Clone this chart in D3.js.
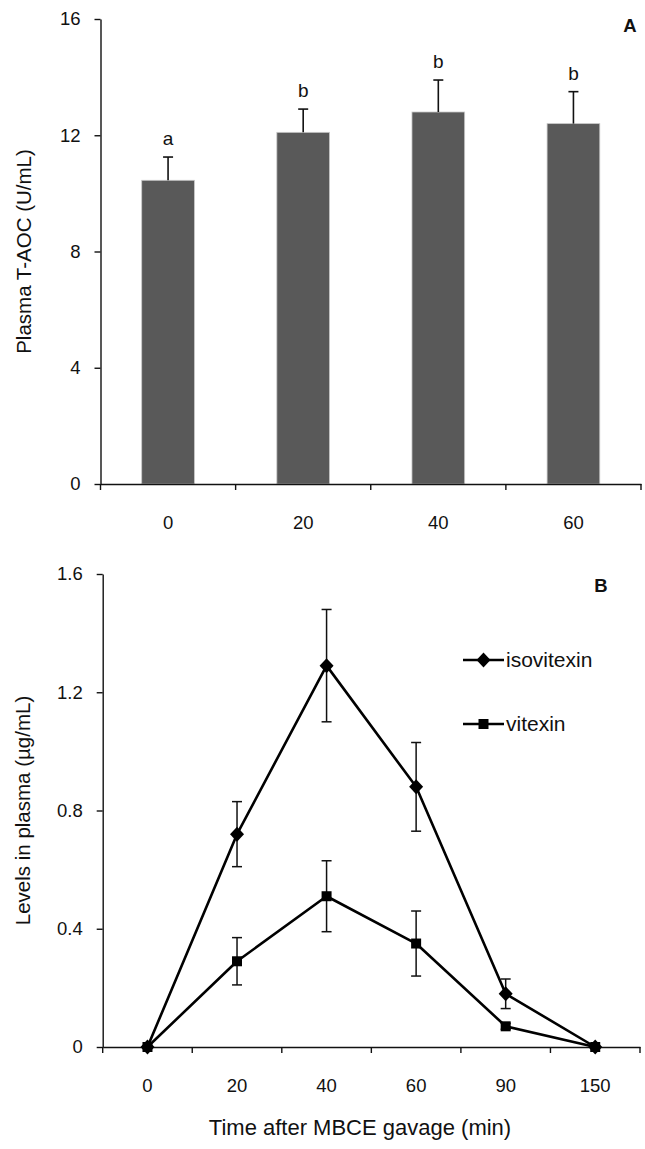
<!DOCTYPE html>
<html>
<head>
<meta charset="utf-8">
<script src="https://cdn.jsdelivr.net/npm/d3@7/dist/d3.min.js"></script>
<style>
  html, body { margin: 0; padding: 0; background: #fff; }
  svg { display: block; font-family: "Liberation Sans", Arial, sans-serif; }
</style>
</head>
<body>
<svg id="chart" width="645" height="1149"></svg>
<script>
// ---- Panel A data ----
const timesA = ["0", "20", "40", "60"];
const taoc = [10.45, 12.1, 12.8, 12.4];
const taocErr = [0.8, 0.8, 1.1, 1.1];
const sigLetters = ["a", "b", "b", "b"];
const yTicksA = [0, 4, 8, 12, 16];

// ---- Panel B data ----
const timesB = ["0", "20", "40", "60", "90", "150"];
const isovitexin = [0, 0.72, 1.29, 0.88, 0.18, 0];
const isovitexinErr = [0, 0.11, 0.19, 0.15, 0.05, 0];
const vitexin = [0, 0.29, 0.51, 0.35, 0.07, 0];
const vitexinErr = [0, 0.08, 0.12, 0.11, 0.01, 0];
const yTicksB = [0, 0.4, 0.8, 1.2, 1.6];
const seriesNames = ["isovitexin", "vitexin"];

const svg = d3.select("#chart");
const tickFont = "18.5px";

// ================= Panel A =================
const xA = d3.scaleBand().domain(timesA).range([100.5, 641]).paddingInner(0.61).paddingOuter(0.305);
const yA = d3.scaleLinear().domain([0, 16]).range([484, 19]);
const gA = svg.append("g");

// bars
gA.selectAll("rect.bar").data(timesA).join("rect")
  .attr("x", d => xA(d)).attr("width", xA.bandwidth())
  .attr("y", (d, i) => yA(taoc[i])).attr("height", (d, i) => yA(0) - yA(taoc[i]))
  .attr("fill", "#595959").attr("stroke", "#c8c8c8").attr("stroke-width", 0.8);

// error bars (upward)
const cx = d => xA(d) + xA.bandwidth() / 2;
gA.selectAll("line.err").data(timesA).join("line")
  .attr("x1", cx).attr("x2", cx)
  .attr("y1", (d, i) => yA(taoc[i])).attr("y2", (d, i) => yA(taoc[i] + taocErr[i]))
  .attr("stroke", "#111").attr("stroke-width", 1.6);
gA.selectAll("line.cap").data(timesA).join("line")
  .attr("x1", d => cx(d) - 5).attr("x2", d => cx(d) + 5)
  .attr("y1", (d, i) => yA(taoc[i] + taocErr[i])).attr("y2", (d, i) => yA(taoc[i] + taocErr[i]))
  .attr("stroke", "#111").attr("stroke-width", 1.6);

// significance letters
gA.selectAll("text.sig").data(timesA).join("text")
  .attr("x", cx).attr("y", (d, i) => yA(taoc[i] + taocErr[i]) - 12)
  .attr("text-anchor", "middle").attr("font-size", "19px").attr("fill", "#111")
  .text((d, i) => sigLetters[i]);

// y axis
const yAxisA = gA.append("g").attr("transform", "translate(100.5,0)")
  .call(d3.axisLeft(yA).tickValues(yTicksA).tickSize(6).tickSizeOuter(0).tickPadding(14));
yAxisA.selectAll("text").attr("font-size", tickFont).attr("fill", "#111").attr("font-family", "Liberation Sans, Arial, sans-serif");
yAxisA.selectAll("line,path").attr("stroke", "#111").attr("stroke-width", 1.4);

// x axis
const xAxisA = gA.append("g").attr("transform", "translate(0,484)")
  .call(d3.axisBottom(xA).tickSize(0).tickSizeOuter(0).tickPadding(32));
xAxisA.select("path").attr("stroke", "#111").attr("stroke-width", 1.4);
xAxisA.selectAll("text").attr("font-size", tickFont).attr("fill", "#111").attr("font-family", "Liberation Sans, Arial, sans-serif");
const boundsA = timesA.map(d => xA(d) - xA.step() * xA.paddingInner() / 2 + 0).map((v, i) => 100.5 + i * xA.step());
boundsA.push(100.5 + timesA.length * xA.step());
xAxisA.selectAll("line.bt").data(boundsA).join("line")
  .attr("x1", d => d).attr("x2", d => d).attr("y1", 0).attr("y2", 6)
  .attr("stroke", "#111").attr("stroke-width", 1.4);

// y title
gA.append("text").attr("transform", `translate(31,${(yA(0) + yA(16)) / 2}) rotate(-90)`)
  .attr("text-anchor", "middle").attr("font-size", "20.5px").attr("fill", "#111")
  .text("Plasma T-AOC (U/mL)");
// panel label
gA.append("text").attr("x", 630).attr("y", 32).attr("text-anchor", "middle")
  .attr("font-size", "18.5px").attr("font-weight", "bold").attr("fill", "#111").text("A");

// ================= Panel B =================
const xB = d3.scaleBand().domain(timesB).range([102.7, 640]);
const yB = d3.scaleLinear().domain([0, 1.6]).range([1047, 574]);
const gB = svg.append("g");
const px = d => xB(d) + xB.bandwidth() / 2;

// y axis
const yAxisB = gB.append("g").attr("transform", "translate(102.7,0)")
  .call(d3.axisLeft(yB).tickValues(yTicksB).tickFormat(d => d === 0 ? "0" : d3.format(".1f")(d))
    .tickSize(6).tickSizeOuter(0).tickPadding(14));
yAxisB.selectAll("text").attr("font-size", tickFont).attr("fill", "#111").attr("font-family", "Liberation Sans, Arial, sans-serif");
yAxisB.selectAll("line,path").attr("stroke", "#111").attr("stroke-width", 1.4);

// x axis
const xAxisB = gB.append("g").attr("transform", "translate(0,1047)")
  .call(d3.axisBottom(xB).tickSize(0).tickSizeOuter(0).tickPadding(32));
xAxisB.select("path").attr("stroke", "#111").attr("stroke-width", 1.4);
xAxisB.selectAll("text").attr("font-size", tickFont).attr("fill", "#111").attr("font-family", "Liberation Sans, Arial, sans-serif");
const boundsB = timesB.map(d => xB(d));
boundsB.push(xB.range()[1]);
xAxisB.selectAll("line.bt").data(boundsB).join("line")
  .attr("x1", d => d).attr("x2", d => d).attr("y1", 0).attr("y2", 6)
  .attr("stroke", "#111").attr("stroke-width", 1.4);

const series = [
  { name: seriesNames[0], vals: isovitexin, errs: isovitexinErr, shape: "diamond" },
  { name: seriesNames[1], vals: vitexin, errs: vitexinErr, shape: "square" }
];
const diamondPath = d3.symbol().type(d3.symbolDiamond2 || d3.symbolDiamond).size(110)();
const diamond = "M0,-7.5L7,0L0,7.5L-7,0Z";
const square = "M-5,-5L5,-5L5,5L-5,5Z";

series.forEach(s => {
  const g = gB.append("g");
  // error bars
  timesB.forEach((t, i) => {
    if (s.errs[i] <= 0) return;
    const x = px(t), lo = yB(s.vals[i] - s.errs[i]), hi = yB(s.vals[i] + s.errs[i]);
    g.append("line").attr("x1", x).attr("x2", x).attr("y1", lo).attr("y2", hi)
      .attr("stroke", "#111").attr("stroke-width", 1.5);
    [lo, hi].forEach(yy => g.append("line").attr("x1", x - 5).attr("x2", x + 5).attr("y1", yy).attr("y2", yy)
      .attr("stroke", "#111").attr("stroke-width", 1.5));
  });
  // line
  const line = d3.line().x((d, i) => px(timesB[i])).y(d => yB(d));
  g.append("path").datum(s.vals).attr("d", line).attr("fill", "none")
    .attr("stroke", "#000").attr("stroke-width", 2.6).attr("stroke-linejoin", "round");
  // markers
  g.selectAll("path.m").data(s.vals).join("path")
    .attr("d", s.shape === "diamond" ? diamond : square)
    .attr("transform", (d, i) => `translate(${px(timesB[i])},${yB(d)})`)
    .attr("fill", "#000");
});

// legend
const legY = [660, 724];
series.forEach((s, i) => {
  const g = gB.append("g").attr("transform", `translate(463,${legY[i]})`);
  g.append("line").attr("x1", 0).attr("x2", 41).attr("y1", 0).attr("y2", 0)
    .attr("stroke", "#000").attr("stroke-width", 2.6);
  g.append("path").attr("d", s.shape === "diamond" ? diamond : square)
    .attr("transform", "translate(20.5,0)").attr("fill", "#000");
  g.append("text").attr("x", 43).attr("y", 7).attr("font-size", "21px").attr("fill", "#111").text(s.name);
});

// titles
gB.append("text").attr("transform", `translate(30,${(yB(0) + yB(1.6)) / 2}) rotate(-90)`)
  .attr("text-anchor", "middle").attr("font-size", "20.5px").attr("fill", "#111")
  .text("Levels in plasma (µg/mL)");
gB.append("text").attr("x", 360).attr("y", 1135).attr("text-anchor", "middle")
  .attr("font-size", "22px").attr("fill", "#111").text("Time after MBCE gavage (min)");
gB.append("text").attr("x", 601).attr("y", 592).attr("text-anchor", "middle")
  .attr("font-size", "18.5px").attr("font-weight", "bold").attr("fill", "#111").text("B");
</script>
</body>
</html>
